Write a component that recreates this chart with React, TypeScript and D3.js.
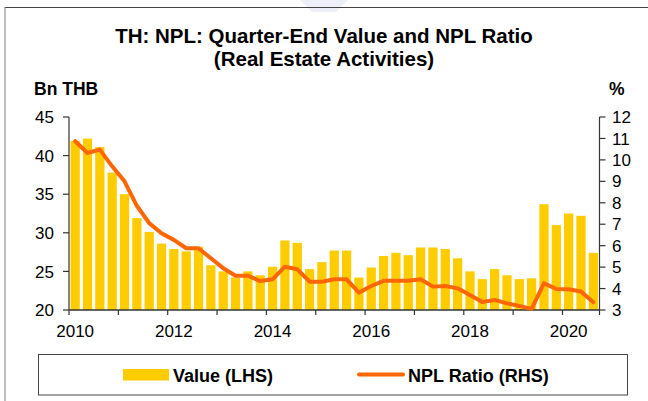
import React from "react";
import * as d3 from "d3";

const years = [2010, 2011, 2012, 2013, 2014, 2015, 2016, 2017, 2018, 2019, 2020];
const quarterNames = ["Q1", "Q2", "Q3", "Q4"];
const quarters: string[] = years
  .flatMap((y) => quarterNames.map((q) => `${y}${q}`))
  .slice(0, 43);

const valueBn = [
  41.9, 42.2, 41.1, 37.8, 35.0, 31.9, 30.1, 28.6, 27.9, 27.6, 28.2, 25.8,
  25.0, 24.2, 25.0, 24.5, 25.6, 29.0, 28.7, 25.3, 26.2, 27.7, 27.7, 24.2,
  25.5, 27.0, 27.4, 27.1, 28.1, 28.1, 27.9, 26.7, 25.0, 24.0, 25.3, 24.5,
  24.0, 24.1, 33.7, 31.0, 32.5, 32.2, 27.4,
];

const nplRatio = [
  10.87, 10.32, 10.48, 9.7, 9.0, 7.86, 7.05, 6.58, 6.27, 5.88, 5.88, 5.41,
  4.95, 4.6, 4.6, 4.35, 4.43, 5.02, 4.9, 4.32, 4.32, 4.43, 4.43, 3.81,
  4.12, 4.36, 4.36, 4.36, 4.43, 4.09, 4.12, 4.01, 3.7, 3.37, 3.47, 3.31,
  3.19, 3.05, 4.25, 3.98, 3.97, 3.86, 3.36,
];

const leftTicks = [20, 25, 30, 35, 40, 45];
const rightTicks = [3, 4, 5, 6, 7, 8, 9, 10, 11, 12];
const labelYears = [2010, 2012, 2014, 2016, 2018, 2020];

const titleLines = ["TH: NPL: Quarter-End Value and NPL Ratio", "(Real Estate Activities)"];
const leftUnit = "Bn THB";
const rightUnit = "%";
const legendBar = "Value (LHS)";
const legendLine = "NPL Ratio (RHS)";

const FONT = "'Liberation Sans', Arial, Helvetica, sans-serif";
const BAR = "#FFCC00";
const LINE = "#FF6600";
const AXIS = "#333333";

export default function App() {
  const W = 648;
  const H = 401;
  const left = 69;
  const right = 599.5;
  const top = 117;
  const bottom = 310;

  const x = d3
    .scaleBand<string>()
    .domain(quarters)
    .range([left, right])
    .paddingInner(0.25)
    .paddingOuter(0.125);
  const step = x.step();
  const bw = x.bandwidth();
  const yL = d3.scaleLinear().domain([20, 45]).range([bottom, top]);
  const yR = d3.scaleLinear().domain([3, 12]).range([bottom, top]);

  const lineGen = d3
    .line<number>()
    .x((_, i) => (x(quarters[i]) as number) + bw / 2)
    .y((d) => yR(d));

  const yearTicks = years
    .filter((y) => quarters.includes(`${y}Q1`))
    .map((y) => (x(`${y}Q1`) as number) - (step - bw) / 2);
  yearTicks.push(right);

  return (
    <svg
      width={W}
      height={H}
      style={{ position: "absolute", left: 0, top: 0, display: "block", background: "#fff" }}
      fontFamily={FONT}
    >
      <rect x={0} y={0} width={W} height={H} fill="#fff" />
      {/* faint watermark */}
      <polygon points="300,0 348,0 336,12 312,12" fill="#EEF0F9" />
      {/* frame */}
      <line x1={4.5} y1={7.5} x2={W} y2={7.5} stroke="#444" strokeWidth={1} />
      <line x1={5} y1={7.5} x2={5} y2={H} stroke="#AAAAAA" strokeWidth={1.5} />

      {/* title */}
      {titleLines.map((t, i) => (
        <text
          key={t}
          x={324}
          y={43 + i * 23}
          textAnchor="middle"
          fontSize={20.5}
          fontWeight="bold"
          fill="#000"
        >
          {t}
        </text>
      ))}
      <text x={34} y={95} fontSize={17.5} fontWeight="bold" fill="#000">
        {leftUnit}
      </text>
      <text x={609} y={95} fontSize={17.5} fontWeight="bold" fill="#000">
        {rightUnit}
      </text>

      {/* bars */}
      {valueBn.map((v, i) => (
        <rect
          key={quarters[i]}
          x={x(quarters[i])}
          y={yL(v)}
          width={bw}
          height={yL(20) - yL(v)}
          fill={BAR}
        />
      ))}

      {/* left axis */}
      <line x1={left} y1={top} x2={left} y2={bottom} stroke={AXIS} strokeWidth={1.2} />
      {leftTicks.map((t) => (
        <g key={t}>
          <line x1={left - 6} x2={left} y1={yL(t)} y2={yL(t)} stroke={AXIS} strokeWidth={1.2} />
          <text x={54} y={yL(t)} dy="0.36em" textAnchor="end" fontSize={17} fill="#000">
            {t}
          </text>
        </g>
      ))}

      {/* right axis */}
      <line x1={right} y1={top} x2={right} y2={bottom} stroke={AXIS} strokeWidth={1.2} />
      {rightTicks.map((t) => (
        <g key={t}>
          <line x1={right} x2={right + 6} y1={yR(t)} y2={yR(t)} stroke={AXIS} strokeWidth={1.2} />
          <text x={612} y={yR(t)} dy="0.36em" textAnchor="start" fontSize={17} fill="#000">
            {t}
          </text>
        </g>
      ))}

      {/* x axis */}
      <line x1={left} y1={bottom} x2={right} y2={bottom} stroke={AXIS} strokeWidth={1.5} />
      {yearTicks.map((tx, i) => (
        <line key={i} x1={tx} x2={tx} y1={bottom} y2={bottom + 5} stroke={AXIS} strokeWidth={1.2} />
      ))}
      {labelYears.map((yr) => (
        <text
          key={yr}
          x={(x(`${yr}Q1`) as number) + bw / 2}
          y={337}
          textAnchor="middle"
          fontSize={17}
          fill="#000"
        >
          {yr}
        </text>
      ))}

      {/* NPL ratio line */}
      <path
        d={lineGen(nplRatio) || ""}
        fill="none"
        stroke={LINE}
        strokeWidth={4}
        strokeLinejoin="round"
        strokeLinecap="round"
      />

      {/* legend */}
      <rect x={38.5} y={354.5} width={589} height={40.5} fill="#fff" stroke="#444" strokeWidth={1} />
      <rect x={123} y={369} width={46} height={11.5} fill={BAR} />
      <text x={173} y={381.5} fontSize={18} fontWeight="bold" fill="#000">
        {legendBar}
      </text>
      <line x1={359} x2={403} y1={374.5} y2={374.5} stroke={LINE} strokeWidth={4} strokeLinecap="round" />
      <text x={408} y={381.5} fontSize={18} fontWeight="bold" fill="#000">
        {legendLine}
      </text>
    </svg>
  );
}
